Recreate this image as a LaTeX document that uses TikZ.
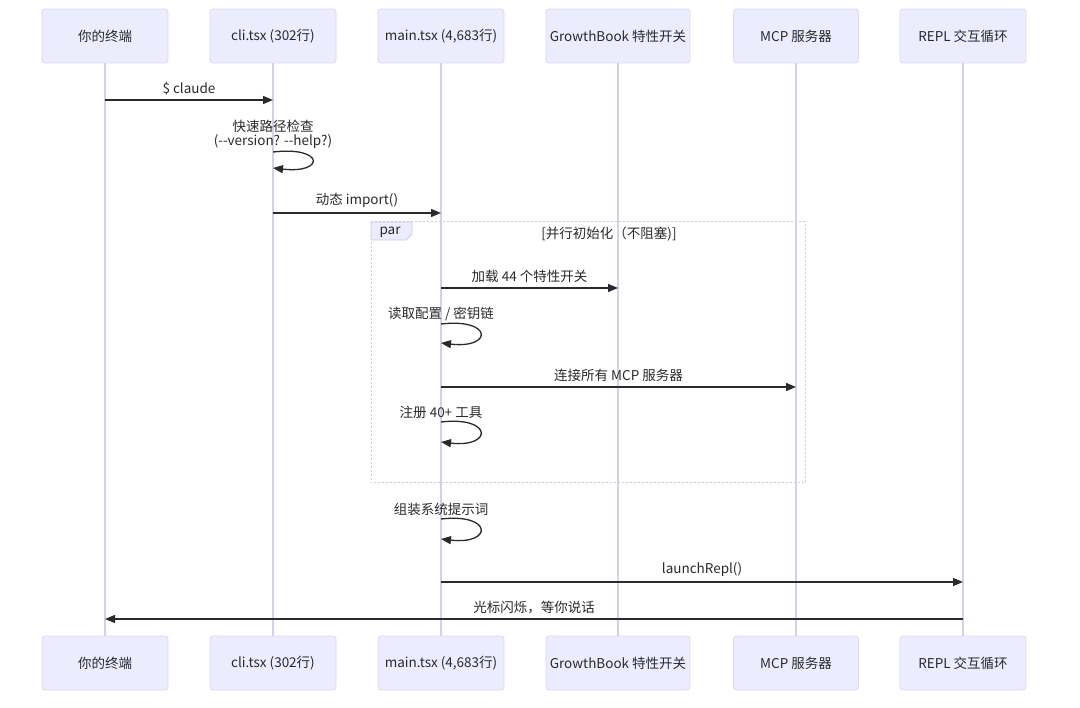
\documentclass[tikz,border=0pt]{standalone}
\usepackage{fontspec}
\setmainfont{Noto Sans CJK SC}
\usetikzlibrary{arrows.meta,calc}
\definecolor{boxfill}{HTML}{ECECFF}
\definecolor{boxline}{HTML}{DCD9F3}
\definecolor{life}{HTML}{D2D0F0}
\definecolor{ink}{HTML}{2A2A2A}
\definecolor{parline}{HTML}{CACAE0}
\begin{document}
\begin{tikzpicture}[x=1pt,y=-1pt,
 actor/.style={draw=boxline,fill=boxfill,rounded corners=3pt,minimum height=54pt,minimum width=126pt,inner sep=0pt,font=\fontsize{13.5}{16}\selectfont,text=ink,line width=0.8pt},
 lifeline/.style={draw=life,line width=1.5pt},
 msg/.style={draw=ink,line width=1.3pt,-{Triangle[length=10pt,width=8pt]}},
 lbl/.style={font=\fontsize{13.5}{16}\selectfont,text=ink,inner sep=0pt}]
\useasboundingbox (0,0) rectangle (1080,708);
\fill[white] (0,0) rectangle (1080,708);

% par frame
\draw[parline,line width=1pt,dash pattern=on 2pt off 2pt] (371,222) rectangle (805,483);

% actors
\node[actor] (t1) at (105,36) {你的终端};
\node[actor] (t2) at (273,36) {cli.tsx (302行)};
\node[actor] (t3) at (441,36) {main.tsx (4,683行)};
\node[actor,minimum width=144pt] (t4) at (618,36) {GrowthBook 特性开关};
\node[actor,minimum width=125pt] (t5) at (796,36) {MCP 服务器};
\node[actor] (t6) at (963,36) {REPL 交互循环};
\node[actor] (b1) at (105,663) {你的终端};
\node[actor] (b2) at (273,663) {cli.tsx (302行)};
\node[actor] (b3) at (441,663) {main.tsx (4,683行)};
\node[actor,minimum width=144pt] (b4) at (618,663) {GrowthBook 特性开关};
\node[actor,minimum width=125pt] (b5) at (796,663) {MCP 服务器};
\node[actor] (b6) at (963,663) {REPL 交互循环};

% lifelines
\foreach \i in {1,...,6} {\draw[lifeline] (t\i.south) -- (b\i.north);}

% par tab
\draw[fill=boxfill,draw=parline,line width=0.8pt] (371,222) -- (412,222) -- (412,234) -- (406,240) -- (371,240) -- cycle;
\node[lbl] (partag) at (390,232) {par};
\node[lbl] (partitle) at (609,234) {[并行初始化（不阻塞)]};

% messages
\draw[msg] (t1.south |- 0,100) -- (t2.south |- 0,100) node[lbl,midway,above=4.5pt] (l1) {\$ claude};

\node[lbl] (l2a) at (273,126) {快速路径检查};
\node[lbl] (l2b) at (273,142) {(-\kern0pt-version? -\kern0pt-help?)};
\draw[msg] (t2.south |- 0,152) .. controls +(52,-6) and +(52,6) .. (t2.south |- 0,168);

\draw[msg] (t2.south |- 0,213) -- (t3.south |- 0,213) node[lbl,midway,above=4.5pt] (l3) {动态 import()};

\draw[msg] (t3.south |- 0,288) -- (t4.south |- 0,288) node[lbl,midway,above=4.5pt] (l4) {加载 44 个特性开关};

\node[lbl] (l5) at (441,314) {读取配置 / 密钥链};
\draw[msg] (t3.south |- 0,324) .. controls +(52,-6) and +(52,6) .. (t3.south |- 0,343);

\draw[msg] (t3.south |- 0,387) -- (t5.south |- 0,387) node[lbl,midway,above=4.5pt] (l6) {连接所有 MCP 服务器};

\node[lbl] (l7) at (441,412) {注册 40+ 工具};
\draw[msg] (t3.south |- 0,422) .. controls +(52,-6) and +(52,6) .. (t3.south |- 0,442);

\node[lbl] (l8) at (441,509) {组装系统提示词};
\draw[msg] (t3.south |- 0,519) .. controls +(52,-6) and +(52,6) .. (t3.south |- 0,539);

\draw[msg] (t3.south |- 0,582) -- (t6.south |- 0,582) node[lbl,midway,above=4.5pt] (l9) {launchRepl()};

\draw[msg] (t6.south |- 0,619) -- (t1.south |- 0,619) node[lbl,pos=0.5,above=4.5pt] (l10) {光标闪烁，等你说话};
\end{tikzpicture}
\end{document}
